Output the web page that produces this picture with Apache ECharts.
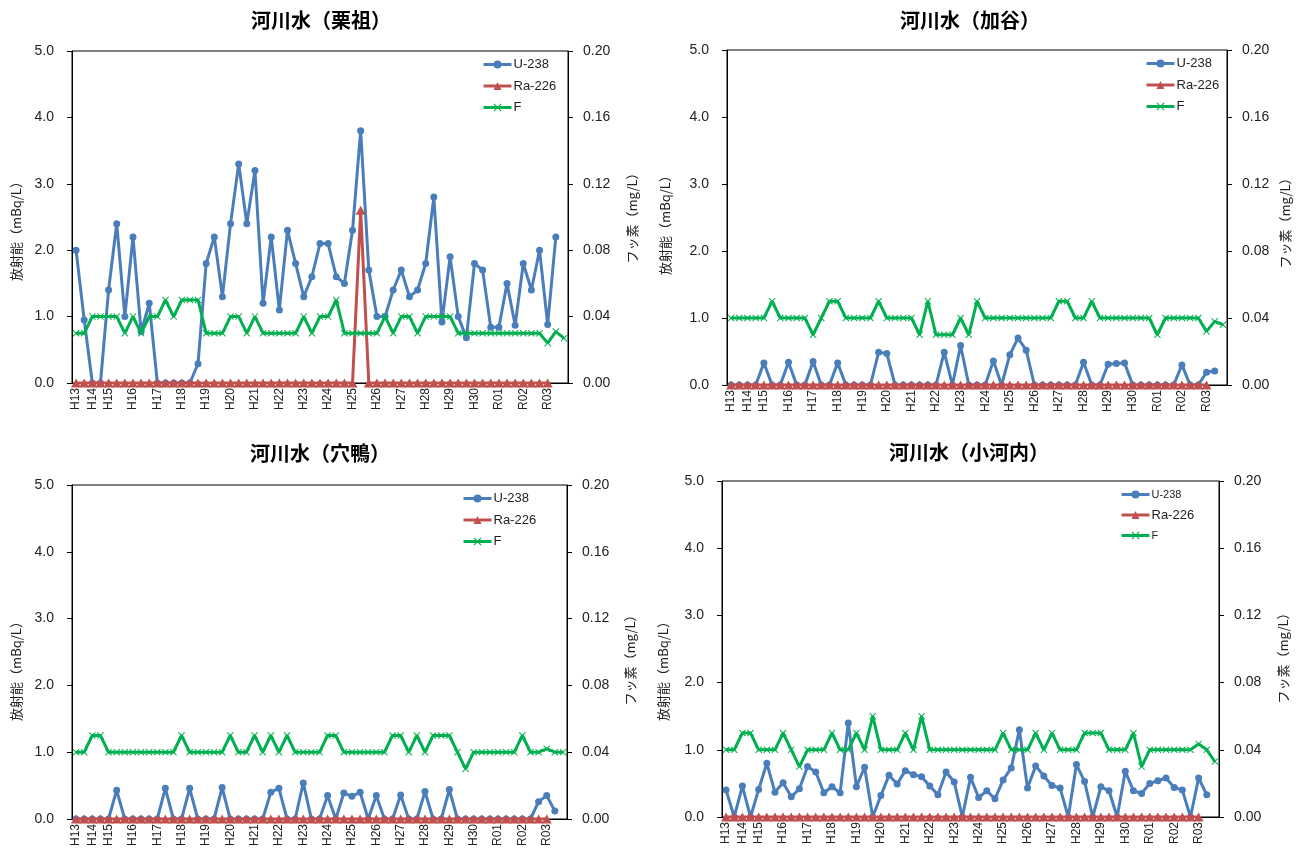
<!DOCTYPE html>
<html><head><meta charset="utf-8">
<script src="https://cdn.jsdelivr.net/npm/echarts@6/dist/echarts.min.js"></script>
<style>html,body{margin:0;padding:0;background:#fff}#c{width:1299px;height:856px}</style>
</head><body><div id="c"></div>
<script>
// ---- tick labels (61 samples, label at first sample of each fiscal year) ----
const xLabels = ['H13','','H14','','H15','','','H16','','','H17','','','H18','','','H19','','','H20','','','H21','','','H22','','','H23','','','H24','','','H25','','','H26','','','H27','','','H28','','','H29','','','H30','','','R01','','','R02','','','R03','',''];

// ---- 河川水（栗祖） ----
const u238_kurizo = [2.0,0.95,0,0,1.4,2.4,1.0,2.2,0.77,1.2,0,0,0,0,0,0.29,1.8,2.2,1.3,2.4,3.3,2.4,3.2,1.2,2.2,1.1,2.3,1.8,1.3,1.6,2.1,2.1,1.6,1.5,2.3,3.8,1.7,1.0,1.0,1.4,1.7,1.3,1.4,1.8,2.8,0.92,1.9,1.0,0.68,1.8,1.7,0.84,0.84,1.5,0.87,1.8,1.4,2.0,0.88,2.2,null];
const ra226_kurizo = [0,0,0,0,0,0,0,0,0,0,0,0,0,0,0,0,0,0,0,0,0,0,0,0,0,0,0,0,0,0,0,0,0,0,0,2.6,0,0,0,0,0,0,0,0,0,0,0,0,0,0,0,0,0,0,0,0,0,0,0,null,null];
const f_kurizo = [0.03,0.03,0.04,0.04,0.04,0.04,0.03,0.04,0.03,0.04,0.04,0.05,0.04,0.05,0.05,0.05,0.03,0.03,0.03,0.04,0.04,0.03,0.04,0.03,0.03,0.03,0.03,0.03,0.04,0.03,0.04,0.04,0.05,0.03,0.03,0.03,0.03,0.03,0.04,0.03,0.04,0.04,0.03,0.04,0.04,0.04,0.04,0.03,0.03,0.03,0.03,0.03,0.03,0.03,0.03,0.03,0.03,0.03,0.024,0.031,0.027];

// ---- 河川水（加谷） ----
const u238_kaya = [0,0,0,0,0.33,0,0,0.34,0,0,0.35,0,0,0.33,0,0,0,0,0.49,0.47,0,0,0,0,0,0,0.49,0,0.59,0,0,0,0.36,0,0.45,0.70,0.52,0,0,0,0,0,0,0.34,0,0,0.31,0.32,0.33,0,0,0,0,0,0,0.30,0,0,0.19,0.21,null];
const ra226_kaya = [0,0,0,0,0,0,0,0,0,0,0,0,0,0,0,0,0,0,0,0,0,0,0,0,0,0,0,0,0,0,0,0,0,0,0,0,0,0,0,0,0,0,0,0,0,0,0,0,0,0,0,0,0,0,0,0,0,0,0,null,null];
const f_kaya = [0.04,0.04,0.04,0.04,0.04,0.05,0.04,0.04,0.04,0.04,0.03,0.04,0.05,0.05,0.04,0.04,0.04,0.04,0.05,0.04,0.04,0.04,0.04,0.03,0.05,0.03,0.03,0.03,0.04,0.03,0.05,0.04,0.04,0.04,0.04,0.04,0.04,0.04,0.04,0.04,0.05,0.05,0.04,0.04,0.05,0.04,0.04,0.04,0.04,0.04,0.04,0.04,0.03,0.04,0.04,0.04,0.04,0.04,0.032,0.038,0.036];

// ---- 河川水（穴鴨） ----
const u238_anakamo = [0,0,0,0,0,0.43,0,0,0,0,0,0.46,0,0,0.46,0,0,0,0.47,0,0,0,0,0,0.40,0.46,0,0,0.54,0,0,0.35,0,0.39,0.34,0.40,0,0.35,0,0,0.36,0,0,0.41,0,0,0.44,0,0,0,0,0,0,0,0,0,0,0.26,0.35,0.12,null];
const ra226_anakamo = [0,0,0,0,0,0,0,0,0,0,0,0,0,0,0,0,0,0,0,0,0,0,0,0,0,0,0,0,0,0,0,0,0,0,0,0,0,0,0,0,0,0,0,0,0,0,0,0,0,0,0,0,0,0,0,0,0,0,0,null,null];
const f_anakamo = [0.04,0.04,0.05,0.05,0.04,0.04,0.04,0.04,0.04,0.04,0.04,0.04,0.04,0.05,0.04,0.04,0.04,0.04,0.04,0.05,0.04,0.04,0.05,0.04,0.05,0.04,0.05,0.04,0.04,0.04,0.04,0.05,0.05,0.04,0.04,0.04,0.04,0.04,0.04,0.05,0.05,0.04,0.05,0.04,0.05,0.05,0.05,0.04,0.03,0.04,0.04,0.04,0.04,0.04,0.04,0.05,0.04,0.04,0.042,0.04,0.04];

// ---- 河川水（小河内） ----
const u238_kogouchi = [0.40,0,0.46,0,0.41,0.80,0.37,0.51,0.30,0.42,0.75,0.67,0.36,0.45,0.36,1.40,0.45,0.74,0,0.32,0.62,0.49,0.69,0.63,0.60,0.46,0.33,0.67,0.52,0,0.59,0.29,0.39,0.27,0.55,0.73,1.30,0.43,0.76,0.61,0.47,0.43,0,0.78,0.53,0,0.45,0.39,0,0.68,0.39,0.35,0.50,0.54,0.58,0.44,0.40,0,0.58,0.33,null];
const ra226_kogouchi = [0,0,0,0,0,0,0,0,0,0,0,0,0,0,0,0,0,0,0,0,0,0,0,0,0,0,0,0,0,0,0,0,0,0,0,0,0,0,0,0,0,0,0,0,0,0,0,0,0,0,0,0,0,0,0,0,0,0,0,null,null];
const f_kogouchi = [0.04,0.04,0.05,0.05,0.04,0.04,0.04,0.05,0.04,0.03,0.04,0.04,0.04,0.05,0.04,0.04,0.05,0.04,0.06,0.04,0.04,0.04,0.05,0.04,0.06,0.04,0.04,0.04,0.04,0.04,0.04,0.04,0.04,0.04,0.05,0.04,0.04,0.04,0.05,0.04,0.05,0.04,0.04,0.04,0.05,0.05,0.05,0.04,0.04,0.04,0.05,0.03,0.04,0.04,0.04,0.04,0.04,0.04,0.0435,0.04,0.033];

const BLUE = '#4A7EBB', RED = '#C0504D', GREEN = '#00B050';
const XMARK = 'path://M0,1L1,0L5,4L9,0L10,1L6,5L10,9L9,10L5,6L1,10L0,9L4,5Z';
const NUM_FONT = 'Liberation Sans';
const JP_FONT = 'Noto Sans CJK JP';

const panels = [
  {title:'河川水（栗祖）', u:u238_kurizo, r:ra226_kurizo, f:f_kurizo,
   grid:{left:72, top:51, width:496, height:332}, legend:{left:482, top:58},
   tPos:[321,20], lName:[16,228], rName:[632,215], small:false},
  {title:'河川水（加谷）', u:u238_kaya, r:ra226_kaya, f:f_kaya,
   grid:{left:727, top:50, width:500, height:335}, legend:{left:1145, top:57},
   tPos:[970,20], lName:[665,222], rName:[1285,220], small:false},
  {title:'河川水（穴鴨）', u:u238_anakamo, r:ra226_anakamo, f:f_anakamo,
   grid:{left:72, top:485, width:495, height:334}, legend:{left:462, top:492},
   tPos:[320,453], lName:[16,668], rName:[630,657], small:false},
  {title:'河川水（小河内）', u:u238_kogouchi, r:ra226_kogouchi, f:f_kogouchi,
   grid:{left:722, top:481, width:497, height:336}, legend:{left:1120, top:489},
   tPos:[969,452], lName:[663,668], rName:[1283,655], small:true}
];

const cats = xLabels.map((l, i) => String(i));

const option = {
  animation:false,
  backgroundColor:'#fff',
  grid: panels.map(p => Object.assign({show:true, borderColor:'#000', borderWidth:1, containLabel:false}, p.grid)),
  xAxis: panels.map((p, k) => ({
    type:'category', gridIndex:k, data:cats, boundaryGap:true,
    axisLine:{show:true, lineStyle:{color:'#000', width:1}},
    axisTick:{show:false},
    splitLine:{show:false},
    axisLabel:{interval:0, rotate:90, margin:5, fontSize:12, color:'#222', fontFamily:NUM_FONT,
               formatter:(v, i) => xLabels[i]}
  })),
  yAxis: [].concat(...panels.map((p, k) => ([
    {type:'value', gridIndex:k, position:'left', min:0, max:5, interval:1,
     axisLine:{show:true, lineStyle:{color:'#000'}},
     axisTick:{show:true, length:5, lineStyle:{color:'#000'}},
     splitLine:{show:false},
     axisLabel:{margin:18, fontSize:14, color:'#222', fontFamily:NUM_FONT, formatter:v => v.toFixed(1)}},
    {type:'value', gridIndex:k, position:'right', min:0, max:0.2, interval:0.04,
     axisLine:{show:true, lineStyle:{color:'#000'}},
     axisTick:{show:true, length:5, lineStyle:{color:'#000'}},
     splitLine:{show:false},
     axisLabel:{margin:15, fontSize:14, color:'#222', fontFamily:NUM_FONT, formatter:v => v.toFixed(2)}}
  ]))),
  legend: panels.map(p => ({
    left:p.legend.left, top:p.legend.top, orient:'vertical', padding:0,
    itemWidth:28, itemHeight:10, itemGap:8.5, selectedMode:false,
    lineStyle:{width:3},
    textStyle:{fontSize:13, color:'#222', fontFamily:NUM_FONT, padding:[0,0,0,-3]},
    data: p.small
      ? [{name:'U-238', textStyle:{fontSize:11}}, {name:'Ra-226'}, {name:'F', textStyle:{fontSize:11}}]
      : ['U-238','Ra-226','F']
  })),
  series: [].concat(...panels.map((p, k) => ([
    {name:'U-238', type:'line', xAxisIndex:k, yAxisIndex:2*k, data:p.u,
     symbol:'circle', symbolSize:7, showAllSymbol:true,
     lineStyle:{color:BLUE, width:3}, itemStyle:{color:BLUE}, z:2},
    {name:'Ra-226', type:'line', xAxisIndex:k, yAxisIndex:2*k, data:p.r,
     symbol:'triangle', symbolSize:[10,9], showAllSymbol:true,
     lineStyle:{color:RED, width:3}, itemStyle:{color:RED}, z:3},
    {name:'F', type:'line', xAxisIndex:k, yAxisIndex:2*k+1, data:p.f,
     symbol:XMARK, symbolSize:7, showAllSymbol:true,
     lineStyle:{color:GREEN, width:3}, itemStyle:{color:GREEN}, z:4}
  ]))),
  graphic: [].concat(...panels.map(p => ([
    {type:'text', x:p.tPos[0], y:p.tPos[1],
     style:{text:p.title, font:'bold 20px "' + JP_FONT + '"', fill:'#000', textAlign:'center', textVerticalAlign:'middle'}},
    {type:'text', x:p.lName[0], y:p.lName[1], rotation:Math.PI/2,
     style:{text:'放射能（mBq/L）', font:'13px "' + JP_FONT + '"', fill:'#222', textAlign:'center', textVerticalAlign:'middle'}},
    {type:'text', x:p.rName[0], y:p.rName[1], rotation:Math.PI/2,
     style:{text:'フッ素（mg/L）', font:'13px "' + JP_FONT + '"', fill:'#222', textAlign:'center', textVerticalAlign:'middle'}}
  ])))
};

const chart = echarts.init(document.getElementById('c'), null, {renderer:'canvas'});
chart.setOption(option);
</script>
</body></html>
